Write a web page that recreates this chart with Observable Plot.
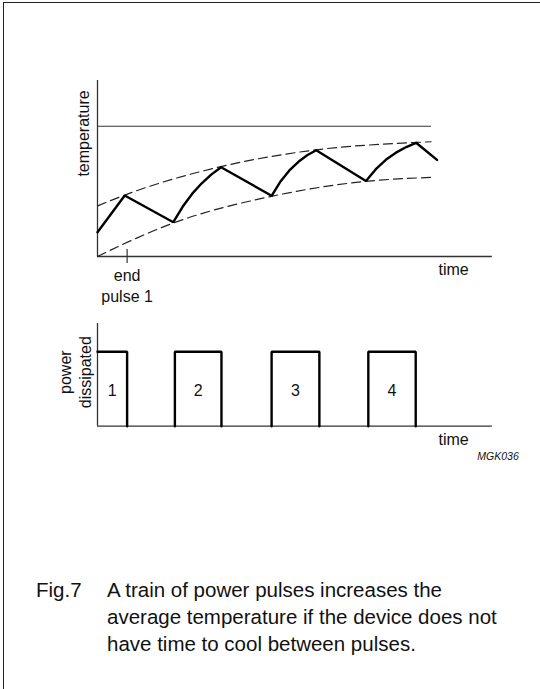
<!DOCTYPE html>
<html>
<head>
<meta charset="utf-8">
<script src="https://cdn.jsdelivr.net/npm/d3@7"></script>
<script src="https://cdn.jsdelivr.net/npm/@observablehq/plot@0.6"></script>
<style>
  html, body { margin: 0; padding: 0; background: #fff; overflow: hidden; }
  #page { position: relative; width: 540px; height: 689px; overflow: hidden;
          font-family: "Liberation Sans", Arial, Helvetica, sans-serif; color: #111; }
  #frame { position: absolute; left: 3px; top: 2px; width: 700px; height: 900px;
           border-top: 1.7px solid #222; border-left: 1.7px solid #222; }
  #top { position: absolute; left: 0; top: 0; }
  #bottom { position: absolute; left: 0; top: 300px; }
  #fig { position: absolute; left: 36px; top: 576px; font-size: 20.5px; line-height: 27px; }
  #cap { position: absolute; left: 107px; top: 576px; font-size: 20.5px; line-height: 27px; white-space: nowrap; }
</style>
</head>
<body>
<div id="page">
  <div id="frame"></div>
  <div id="top"></div>
  <div id="bottom"></div>
  <div id="fig">Fig.7</div>
  <div id="cap">A train of power pulses increases the<br>average temperature if the device does not<br>have time to cool between pulses.</div>
</div>
<script>
// ---- data (time in arbitrary units 0..100, temperature in arbitrary units 0..100) ----
const tempTime  = [0, 6.9,
                   19.2, 21.6, 24.0, 26.4, 28.8, 31.3,
                   44.1, 46.4, 48.6, 50.9, 53.1, 55.4,
                   68.0, 70.5, 73.1, 75.6, 78.2, 80.7,
                   86.0];
const tempValue = [13.8, 34.7,
                   19.5, 28.4, 35.7, 41.6, 46.5, 50.7,
                   34.5, 42.8, 48.9, 53.8, 57.5, 60.4,
                   42.9, 49.6, 55.1, 59.0, 62.2, 64.6,
                   54.9];

const upperTime  = [0, 6.9, 31.3, 55.4, 80.7, 84.5];
const upperValue = [28.7, 34.9, 51.1, 60.6, 64.8, 65.2];

const lowerTime  = [0, 6.7, 19.2, 44.1, 68.0, 85.2];
const lowerValue = [0, 7.2, 19.0, 34.2, 42.7, 45.0];

const limitValue = [74.0];
const limitEnd = 84.6;

const pulseNumber = [1, 2, 3, 4];
const pulseStart  = [0, 19.6, 44.1, 68.6];
const pulseEnd    = [7.5, 31.4, 56.2, 80.6];
const pulsePower  = [1, 1, 1, 1];

const xAxisLabel = "time";
const tempAxisLabel = "temperature";
const powerAxisLabel = "power\ndissipated";
const markerLabel = "end\npulse 1";
const figCode = "MGK036";

// ---- build tables ----
const temp  = tempTime.map((t, i) => ({t, v: tempValue[i]}));
const upper = upperTime.map((t, i) => ({t, v: upperValue[i]}));
const lower = lowerTime.map((t, i) => ({t, v: lowerValue[i]}));
const pulsePath = [];
pulseNumber.forEach((n, i) => {
  if (pulseStart[i] > 0) pulsePath.push({n, t: pulseStart[i], p: 0});
  pulsePath.push({n, t: pulseStart[i], p: pulsePower[i]});
  pulsePath.push({n, t: pulseEnd[i], p: pulsePower[i]});
  pulsePath.push({n, t: pulseEnd[i], p: 0});
});

const FONT = '"Liberation Sans", Arial, Helvetica, sans-serif';
const AX = "#333";
const labelSize = 16;

const topPlot = Plot.plot({
  width: 540, height: 310,
  marginLeft: 97, marginRight: 48.2, marginTop: 80, marginBottom: 54,
  x: {domain: [0, 100], axis: null},
  y: {domain: [0, 100], axis: null},
  style: {background: "transparent", fontFamily: FONT, color: "#111", overflow: "visible"},
  marks: [
    Plot.ruleX([0], {stroke: AX, strokeWidth: 1.3}),
    Plot.ruleY([0], {stroke: AX, strokeWidth: 1.3}),
    Plot.ruleY(limitValue, {x1: 0, x2: limitEnd, stroke: AX, strokeWidth: 1.2}),
    Plot.line(upper, {x: "t", y: "v", curve: "monotone-x", stroke: "#222", strokeWidth: 1.2, strokeDasharray: "9,5"}),
    Plot.line(lower, {x: "t", y: "v", curve: "monotone-x", stroke: "#222", strokeWidth: 1.2, strokeDasharray: "9,5"}),
    Plot.line(temp, {x: "t", y: "v", stroke: "#000", strokeWidth: 2.4, strokeLinejoin: "miter"}),
    Plot.ruleX([pulseEnd[0]], {y1: -4, y2: 4, stroke: AX, strokeWidth: 1.2}),
    Plot.text([markerLabel], {x: pulseEnd[0], y: 0, dy: 28.7, lineHeight: 1.3, fontSize: labelSize}),
    Plot.text([xAxisLabel], {x: 90.2, y: 0, dy: 13.5, fontSize: labelSize}),
    Plot.text([tempAxisLabel], {x: 0, y: 69.9, dx: -13.7, rotate: -90, fontSize: labelSize})
  ]
});
document.getElementById("top").appendChild(topPlot);

const bottomPlot = Plot.plot({
  width: 540, height: 180,
  marginLeft: 97, marginRight: 48.2, marginTop: 23, marginBottom: 54.3,
  x: {domain: [0, 100], axis: null},
  y: {domain: [0, 1.38], axis: null},
  style: {background: "transparent", fontFamily: FONT, color: "#111", overflow: "visible"},
  marks: [
    Plot.ruleX([0], {stroke: AX, strokeWidth: 1.3}),
    Plot.ruleY([0], {stroke: AX, strokeWidth: 1.3}),
    Plot.line(pulsePath, {x: "t", y: "p", z: "n", stroke: "#000", strokeWidth: 2.4, strokeLinejoin: "miter"}),
    Plot.text(pulseNumber, {x: (d, i) => (pulseStart[i] + pulseEnd[i]) / 2, y: (d, i) => pulsePower[i] / 2,
                            text: d => String(d), dy: 1.5, fontSize: labelSize}),
    Plot.text([xAxisLabel], {x: 90.2, y: 0, dy: 13.5, fontSize: labelSize}),
    Plot.text([powerAxisLabel], {x: 0, y: 0.726, dx: -23, rotate: -90, lineHeight: 1.22, fontSize: labelSize}),
    Plot.text([figCode], {frameAnchor: "bottom-right", dx: 26.5, dy: 33.6, textAnchor: "end",
                          fontStyle: "italic", fontSize: 10.5})
  ]
});
document.getElementById("bottom").appendChild(bottomPlot);
</script>
</body>
</html>
